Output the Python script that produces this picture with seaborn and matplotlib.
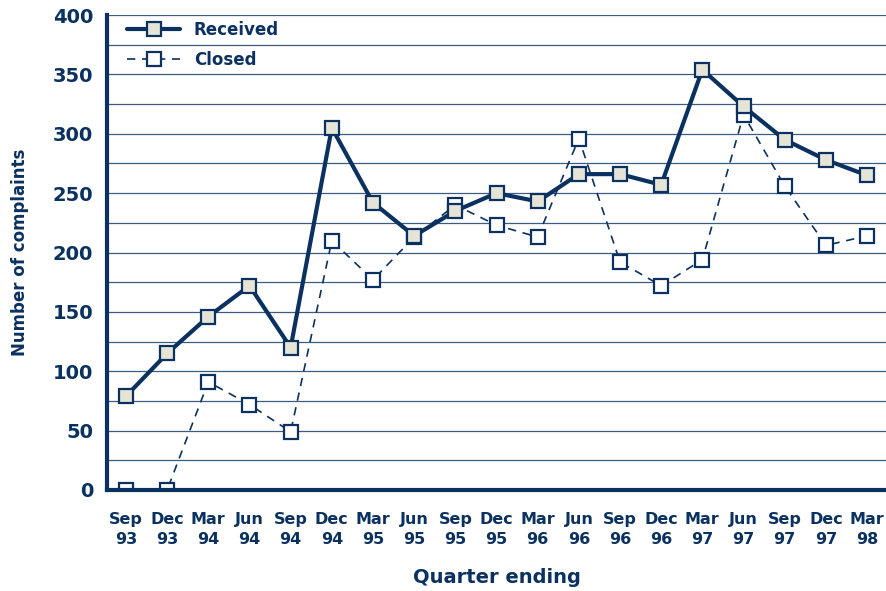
import numpy as np
import pandas as pd
import matplotlib
matplotlib.use("Agg")
import matplotlib.pyplot as plt
import seaborn as sns

# Quarterly complaints data
quarters = ["Sep\n93", "Dec\n93", "Mar\n94", "Jun\n94", "Sep\n94", "Dec\n94", "Mar\n95",
            "Jun\n95", "Sep\n95", "Dec\n95", "Mar\n96", "Jun\n96", "Sep\n96", "Dec\n96",
            "Mar\n97", "Jun\n97", "Sep\n97", "Dec\n97", "Mar\n98"]
received = [79, 115, 146, 172, 120, 305, 242, 214, 235, 250, 243, 266, 266, 257,
            354, 323, 295, 278, 265]
closed = [0, 0, 91, 72, 49, 210, 177, 213, 240, 223, 213, 296, 192, 172,
          194, 316, 256, 206, 214]
y_ticks = [0, 50, 100, 150, 200, 250, 300, 350, 400]

navy = "#0b3160"
beige = "#e6e4d6"

df = pd.DataFrame({"pos": np.arange(len(quarters)), "Received": received, "Closed": closed})

sns.set_theme(style="white")
plt.rcParams['font.family'] = ['DejaVu Sans']
narrow = ['Liberation Sans Narrow', 'DejaVu Sans']

fig = plt.figure(figsize=(8.86, 5.91), dpi=100)
ax = fig.add_axes([0.1208, 0.1709, 0.8792, 0.8037])

# Closed first so Received markers sit on top
sns.lineplot(data=df, x="pos", y="Closed", ax=ax, color=navy, lw=1.2, linestyle=(0, (5, 4)),
             marker="s", markersize=10, markerfacecolor="white", markeredgecolor=navy,
             markeredgewidth=1.6, label="Closed")
sns.lineplot(data=df, x="pos", y="Received", ax=ax, color=navy, lw=3,
             marker="s", markersize=10, markerfacecolor=beige, markeredgecolor=navy,
             markeredgewidth=1.6, label="Received")

ax.set_xlim(-0.46, len(quarters) - 1 + 0.46)
ax.set_ylim(0, 400)

# gridlines every 25
for v in range(25, 401, 25):
    ax.axhline(v, color="#3d5c82", lw=0.9, zorder=0)

ax.set_yticks(y_ticks)
ax.set_yticklabels([str(t) for t in y_ticks], fontsize=14, fontweight="bold", color=navy)
ax.set_xticks(df["pos"])
ax.set_xticklabels(quarters, fontsize=11.5, fontweight="bold", color=navy,
                   family=narrow, linespacing=1.4)
ax.tick_params(axis="y", length=0, pad=10)
ax.tick_params(axis="x", length=0, pad=16)

for s in ["top", "right"]:
    ax.spines[s].set_visible(False)
for s in ["left", "bottom"]:
    ax.spines[s].set_color(navy)
    ax.spines[s].set_linewidth(3)

ax.set_ylabel("Number of complaints", fontsize=12, fontweight="bold", color=navy, labelpad=17)
ax.set_xlabel("Quarter ending", fontsize=14, fontweight="bold", color=navy, labelpad=15,
              family=narrow)

handles, labels = ax.get_legend_handles_labels()
leg = ax.legend(handles[::-1], labels[::-1], loc="upper left", frameon=False,
                bbox_to_anchor=(0.0, 1.03), handlelength=3.2, borderaxespad=0.8,
                labelspacing=0.75, prop={"weight": "bold", "size": 12})
for t in leg.get_texts():
    t.set_color(navy)

fig.savefig("out.png", dpi=100)
